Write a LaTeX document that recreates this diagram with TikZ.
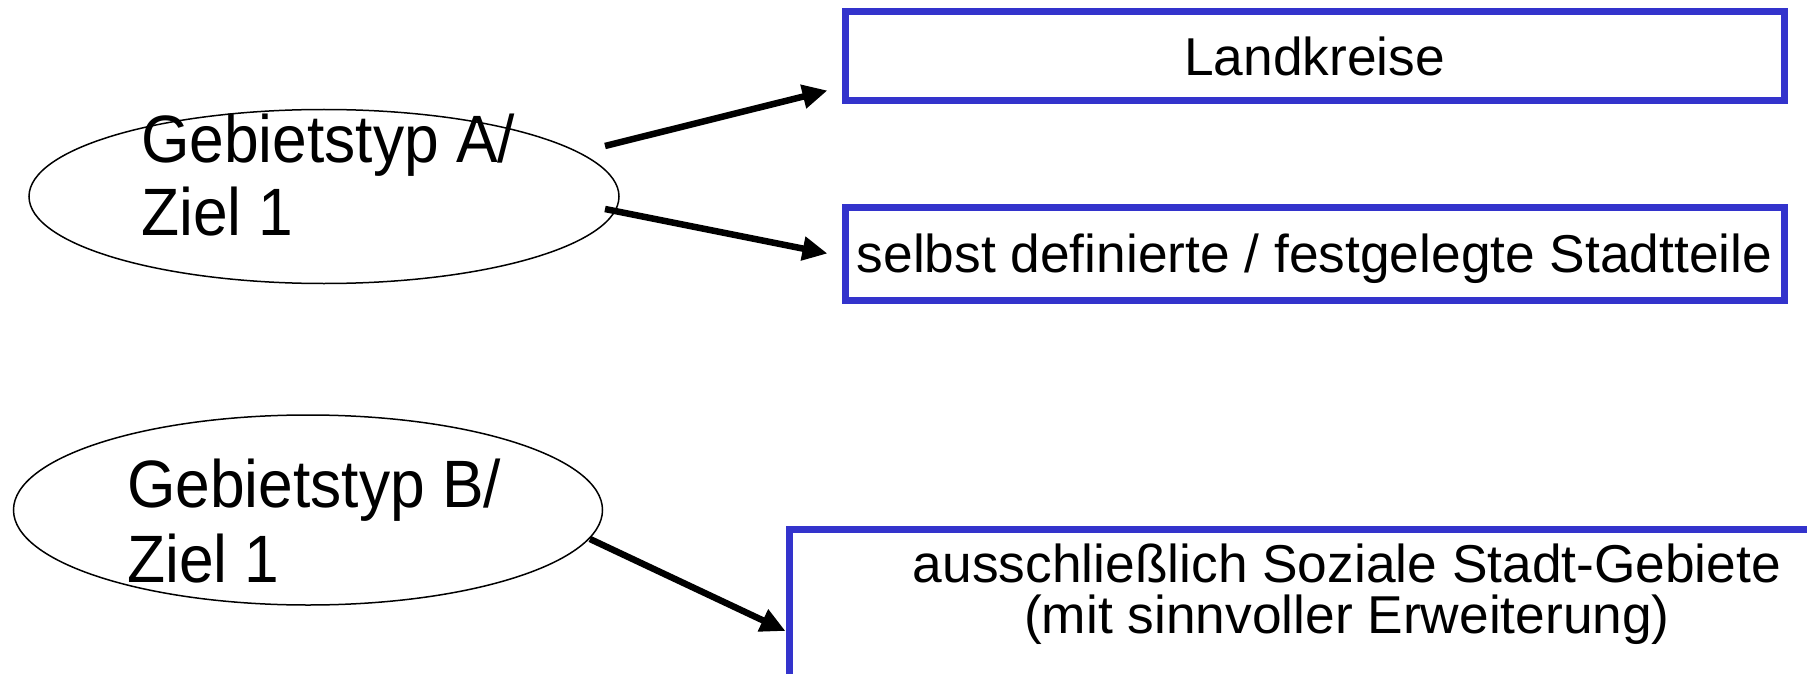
\documentclass[tikz,border=0pt]{standalone}
\usepackage{fontspec}
\setmainfont{Liberation Sans}
\newfontfamily\narrowfont[FakeStretch=0.93]{Liberation Sans}
\usetikzlibrary{arrows.meta,calc,shapes.geometric}
\definecolor{boxblue}{HTML}{3333CC}
\tikzset{
  ell/.style={draw=black,line width=1.5pt,ellipse,inner sep=0pt},
  bluebox/.style={draw=boxblue,line width=7pt,rectangle,inner sep=0pt,
    font=\fontsize{53.3pt}{52pt}\selectfont,text height=38pt,text depth=0pt},
  bigtxt/.style={anchor=base west,inner sep=0pt,font=\narrowfont\fontsize{67pt}{72pt}\selectfont},
  midtxt/.style={anchor=base,inner sep=0pt,font=\fontsize{53.3pt}{52pt}\selectfont},
  conn/.style={line width=6.5pt,-{Triangle[length=25pt,width=23pt]}}
}
\begin{document}
\begin{tikzpicture}[x=1pt,y=-1pt]
\useasboundingbox (0,0) rectangle (1807,674);
\clip (0,0) rectangle (1807,674);
% ellipses
\node[ell,minimum width=590pt,minimum height=174pt] (A) at (324,196.5) {};
\node[ell,minimum width=589pt,minimum height=190pt] (B) at (308,510) {};
\node[bigtxt] (At1) at (141,163) {Gebietstyp A/};
\node[bigtxt] (At2) at (141,235) {Ziel 1};
\node[bigtxt] (Bt1) at (127,507) {Gebietstyp B/};
\node[bigtxt] (Bt2) at (127,582) {Ziel 1};
% boxes
\node[bluebox,minimum width=939pt,minimum height=89pt] (L) at (1314.5,56.5) {Landkreise};
\node[bluebox,minimum width=939pt,minimum height=93pt] (S) at (1314.5,253.5) {selbst definierte / festgelegte Stadtteile};
\node[draw=boxblue,line width=7pt,rectangle,inner sep=0pt,anchor=north west,
  minimum width=1122pt,minimum height=300pt] (G) at (785.5,526) {};
\node[midtxt] (Gt1) at (1347,582) {ausschließlich Soziale Stadt-Gebiete};
\node[midtxt] (Gt2) at (1347,633) {(mit sinnvoller Erweiterung)};
% connectors
\draw[conn] ($(A.center)+(281,-50.5)$) -- ($(L.south west)+(-14,-14)$);
\draw[conn] ($(A.center)+(281,12.5)$) -- ($(S.west)+(-14,0)$);
\draw[conn] ($(B.center)+(282,29)$) -- ($(G.north west)+(0,105)$);
\end{tikzpicture}
\end{document}
